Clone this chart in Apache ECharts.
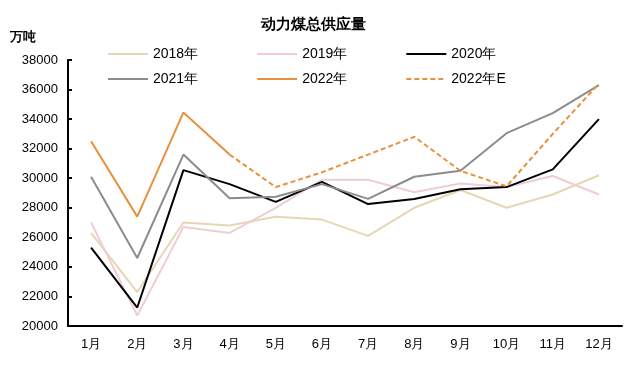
<!DOCTYPE html>
<html><head><meta charset="utf-8">
<script src="https://cdn.jsdelivr.net/npm/echarts@6/dist/echarts.min.js"></script>
<style>html,body{margin:0;padding:0;background:#fff}#c{width:626px;height:370px}</style>
</head><body><div id="c"></div>
<script>
const months = ['1月','2月','3月','4月','5月','6月','7月','8月','9月','10月','11月','12月'];
const y2018 = [26300,22300,27000,26800,27400,27200,26100,28000,29200,28000,28900,30200];
const y2019 = [27000,20700,26700,26300,28000,29900,29900,29050,29650,29400,30150,28900];
const y2020 = [25300,21250,30550,29600,28400,29750,28250,28600,29250,29400,30600,34000];
const y2021 = [30100,24600,31600,28650,28750,29600,28600,30100,30500,33050,34400,36300];
const y2022 = [32500,27400,34450,31600,null,null,null,null,null,null,null,null];
const y2022E = [null,null,null,31600,29400,30400,31600,32800,30500,29450,33000,36400];
const yTicks = {min:20000, max:38000, interval:2000};

const font = 'Liberation Sans';
const chart = echarts.init(document.getElementById('c'));
function s(name, data, color, dashed){
  return {name, type:'line', data, symbol:'none', connectNulls:false,
    lineStyle:{color, width:2, type: dashed ? [5,3] : 'solid'}, itemStyle:{color}};
}
const legendBase = {left:107, itemWidth:40, itemHeight:14, itemGap:58, padding:0,
  itemStyle:{opacity:0}, textStyle:{fontFamily:font, fontSize:14, color:'#000'}};
chart.setOption({
  animation:false,
  title:{text:'动力煤总供应量', left:'center', top:12, textStyle:{fontFamily:font, fontSize:15, fontWeight:'bold', color:'#000'}},
  graphic:[{type:'text', left:10, top:31, style:{text:'万吨', font:'bold 13px "Liberation Sans"', fill:'#000'}}],
  legend:[
    Object.assign({data:['2018年','2019年','2020年'], top:47}, legendBase),
    Object.assign({data:['2021年','2022年','2022年E'], top:72}, legendBase)
  ],
  grid:{left:68, right:4, top:60, bottom:44},
  xAxis:{type:'category', data:months, boundaryGap:true,
    axisLine:{lineStyle:{color:'#000', width:2}},
    axisTick:{inside:true, length:5, lineStyle:{color:'#000', width:2}},
    axisLabel:{fontFamily:font, fontSize:13, color:'#000', margin:12}},
  yAxis:{type:'value', min:yTicks.min, max:yTicks.max, interval:yTicks.interval,
    axisLine:{show:true, lineStyle:{color:'#000', width:2}},
    axisTick:{show:true, inside:true, length:4, lineStyle:{color:'#000', width:2}},
    splitLine:{show:false},
    axisLabel:{fontFamily:font, fontSize:13, color:'#000', margin:10, formatter:v=>String(v)}},
  series:[
    s('2018年', y2018, '#e6d6b6'),
    s('2019年', y2019, '#efcdd2'),
    s('2020年', y2020, '#000000'),
    s('2021年', y2021, '#8c8c8c'),
    s('2022年', y2022, '#e8913c'),
    s('2022年E', y2022E, '#e8913c', true)
  ]
});
</script></body></html>
